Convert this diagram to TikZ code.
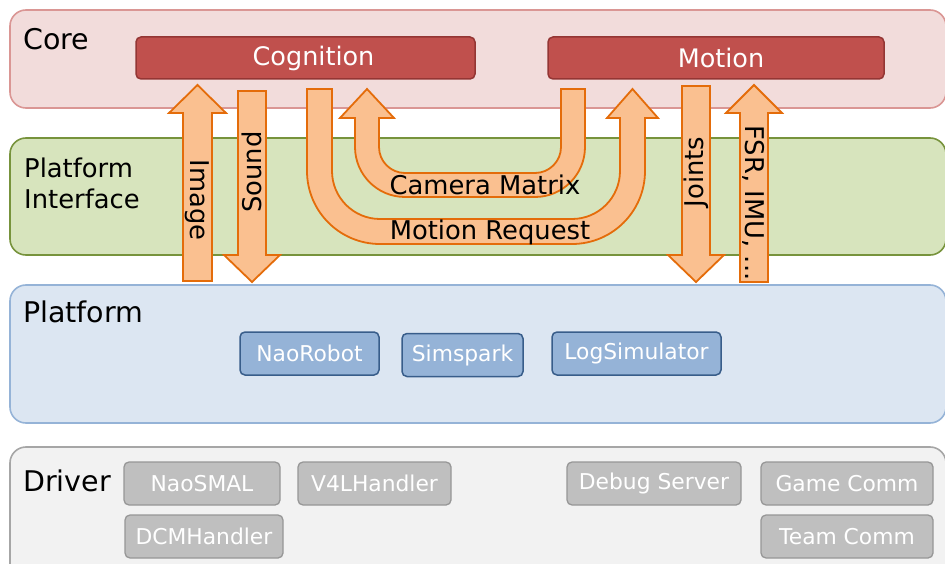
\documentclass[tikz,border=0pt]{standalone}
\usepackage{fontspec}
\setmainfont{DejaVu Sans}
\definecolor{corefill}{HTML}{F2DCDB}
\definecolor{coredraw}{HTML}{DA9694}
\definecolor{pifill}{HTML}{D7E4BD}
\definecolor{pidraw}{HTML}{77933C}
\definecolor{plfill}{HTML}{DCE6F2}
\definecolor{pldraw}{HTML}{95B3D7}
\definecolor{drfill}{HTML}{F2F2F2}
\definecolor{drdraw}{HTML}{A6A6A6}
\definecolor{modfill}{HTML}{C0504D}
\definecolor{moddraw}{HTML}{943634}
\definecolor{pbfill}{HTML}{95B3D7}
\definecolor{pbdraw}{HTML}{385D8A}
\definecolor{dbfill}{HTML}{BFBFBF}
\definecolor{dbdraw}{HTML}{979797}
\definecolor{arfill}{HTML}{FAC090}
\definecolor{ardraw}{HTML}{E46C0A}
\tikzset{
  band/.style={rectangle, rounded corners=16pt, line width=1.6pt, inner sep=0pt, outer sep=0pt},
  bandlabel/.style={anchor=west, inner sep=0pt, font=\fontsize{28.5}{34}\selectfont},
  modbox/.style={rectangle, rounded corners=5pt, fill=modfill, draw=moddraw, line width=1.5pt, text=white,
    minimum height=42pt, inner sep=0pt, font=\fontsize{25.5}{30}\selectfont},
  pbox/.style={rectangle, rounded corners=5pt, fill=pbfill, draw=pbdraw, line width=1.5pt, text=white,
    minimum height=43pt, inner sep=0pt, font=\fontsize{21.8}{26}\selectfont},
  dbox/.style={rectangle, rounded corners=5pt, fill=dbfill, draw=dbdraw, line width=1.3pt, text=white,
    minimum height=43pt, inner sep=0pt, font=\fontsize{21.8}{26}\selectfont},
  blockarrow/.style={fill=arfill, draw=ardraw, line width=1.8pt, line join=miter},
  arrowtext/.style={inner sep=0pt, font=\fontsize{25.8}{30}\selectfont}
}
\begin{document}
\begin{tikzpicture}[x=1pt,y=-1pt]
\useasboundingbox (0,0) rectangle (945,564);
% bands
\node[band, fill=corefill, draw=coredraw, minimum width=936pt, minimum height=98pt] (core) at (478,59) {};
\node[band, fill=pifill, draw=pidraw, minimum width=936pt, minimum height=117pt] (pi) at (478,196.5) {};
\node[band, fill=plfill, draw=pldraw, minimum width=936pt, minimum height=138pt] (pl) at (478,354) {};
\node[band, fill=drfill, draw=drdraw, minimum width=936pt, minimum height=140pt] (dr) at (478,517) {};
% band labels
\node[bandlabel] (corelbl) at (23,39) {Core};
\node[bandlabel, align=left, font=\fontsize{25.8}{31}\selectfont] (pilbl) at (24,183) {Platform\\Interface};
\node[bandlabel] (pllbl) at (23,312) {Platform};
\node[bandlabel] (drlbl) at (23,481) {Driver};
% core modules
\node[modbox, minimum width=339pt] (cog) at (305.5,58) {\hspace{16pt}Cognition};
\node[modbox, minimum width=336pt] (mot) at (716,58) {\hspace{10pt}Motion};
% platform modules
\node[pbox, minimum width=139pt] (naorobot) at (309.5,353.5) {NaoRobot};
\node[pbox, minimum width=121pt] (simspark) at (462.5,355) {Simspark};
\node[pbox, minimum width=169pt] (logsim) at (636.5,353.5) {LogSimulator};
% driver modules
\node[dbox, minimum width=156pt] (naosmal) at (202,483.5) {\raisebox{-3pt}{NaoSMAL}};
\node[dbox, minimum width=153pt] (v4l) at (374.5,483.5) {V4LHandler};
\node[dbox, minimum width=174pt] (debug) at (654,483.5) {\raisebox{1pt}{Debug Server}};
\node[dbox, minimum width=172pt] (game) at (847,483.5) {\raisebox{1pt}{Game Comm}};
\node[dbox, minimum width=158pt] (dcm) at (204,536.5) {DCMHandler};
\node[dbox, minimum width=172pt] (team) at (847,536.5) {Team Comm};
% straight block arrows
\draw[blockarrow] (183,281) -- (183,113) -- (169,113) -- (197.5,85) -- (226,113) -- (212,113) -- (212,281) -- cycle;
\draw[blockarrow] (238,91) -- (238,255) -- (224,255) -- (252,282) -- (280,255) -- (266,255) -- (266,91) -- cycle;
\draw[blockarrow] (682,86) -- (682,255) -- (668,255) -- (696,282) -- (724,255) -- (710,255) -- (710,86) -- cycle;
\draw[blockarrow] (740,282) -- (740,113) -- (726,113) -- (754,85) -- (782,113) -- (768,113) -- (768,282) -- cycle;
% Motion Request U-arrow
\draw[blockarrow] (307,89) -- (307,171) arc[start angle=180,end angle=90,radius=73]
  -- (572,244) arc[start angle=90,end angle=0,radius=73]
  -- (645,118) -- (658,118) -- (632.5,89) -- (607,118) -- (620,118)
  -- (620,171) arc[start angle=0,end angle=90,radius=48]
  -- (380,219) arc[start angle=90,end angle=180,radius=48]
  -- (332,89) -- cycle;
% Camera Matrix U-arrow
\draw[blockarrow] (585,89) -- (585,147) arc[start angle=0,end angle=90,radius=50]
  -- (405,197) arc[start angle=90,end angle=180,radius=50]
  -- (355,118) -- (340,118) -- (367,89) -- (394,118) -- (379,118)
  -- (379,147) arc[start angle=180,end angle=90,radius=26]
  -- (535,173) arc[start angle=90,end angle=0,radius=26]
  -- (561,89) -- cycle;
% arrow labels
\node[arrowtext, rotate=-90] (imagelbl) at (197.5,200) {Image};
\node[arrowtext, rotate=90] (soundlbl) at (252,172) {Sound};
\node[arrowtext, rotate=90] (jointslbl) at (696,172) {Joints};
\node[arrowtext, rotate=-90] (fsrlbl) at (754,203) {FSR, IMU, ...};
\node[arrowtext] (camlbl) at (485,185) {Camera Matrix};
\node[arrowtext] (mreqlbl) at (490,232) {Motion Request};
\end{tikzpicture}
\end{document}
